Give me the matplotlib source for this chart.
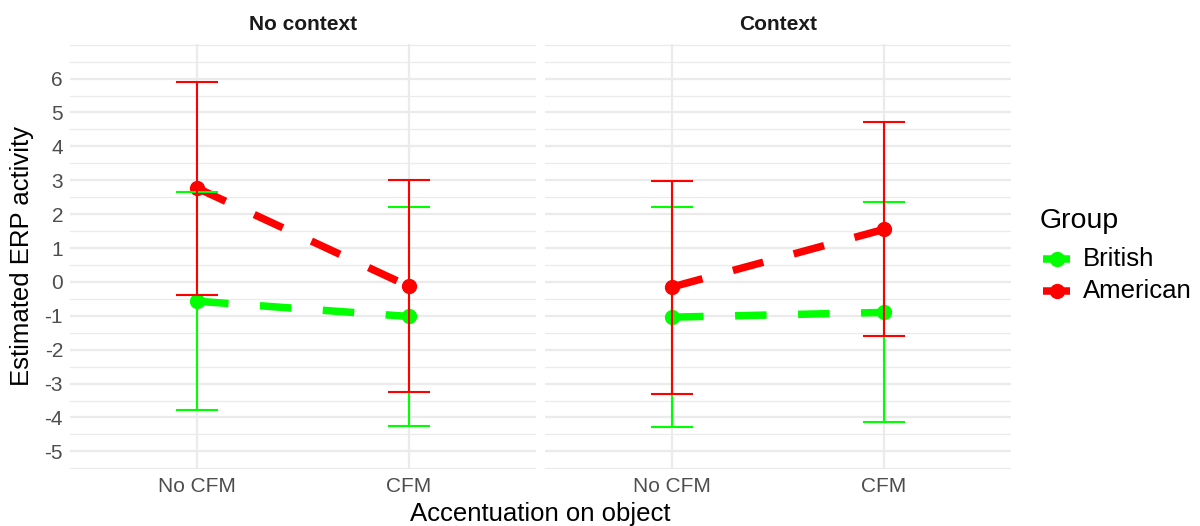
import matplotlib
matplotlib.use("Agg")
import matplotlib.pyplot as plt
import numpy as np

plt.rcParams['font.family'] = ['Liberation Sans', 'DejaVu Sans']
plt.rcParams['axes.unicode_minus'] = False

# data
panels = ["No context", "Context"]
conditions = ["No CFM", "CFM"]
groups = ["British", "American"]
colors = {"British": "#00FF00", "American": "#FF0000"}

means = {
    "No context": {"British": [-0.57, -1.02], "American": [2.77, -0.13]},
    "Context": {"British": [-1.04, -0.90], "American": [-0.15, 1.55]},
}
upper = {
    "No context": {"British": [2.65, 2.20], "American": [5.90, 3.00]},
    "Context": {"British": [2.20, 2.37], "American": [2.99, 4.73]},
}
lower = {
    "No context": {"British": [-3.78, -4.25], "American": [-0.38, -3.26]},
    "Context": {"British": [-4.28, -4.12], "American": [-3.31, -1.59]},
}

fig = plt.figure(figsize=(12, 5.26), dpi=100)

grid_col = "#EBEBEB"
lefts = [70 / 1200, 545 / 1200]
width = 466 / 1200
bottom = 1 - 469 / 526
height = (469 - 44) / 526

x = np.arange(1, len(conditions) + 1)

for i, panel in enumerate(panels):
    ax = fig.add_axes([lefts[i], bottom, width, height])
    ax.set_xlim(0.4, 2.6)
    ax.set_ylim(-5.52, 7.02)
    for s in ax.spines.values():
        s.set_visible(False)

    # grid
    for v in np.arange(-5.5, 7.01, 0.5):
        major = float(v).is_integer() and -5 <= v <= 6
        ax.axhline(v, color=grid_col, lw=1.6 if major else 0.9, zorder=0)
    for xv in x:
        ax.axvline(xv, color=grid_col, lw=1.6, zorder=0)

    for g in groups:
        ax.plot(x, means[panel][g], color=colors[g], lw=5.4,
                dashes=(4.2, 4.2), solid_capstyle="butt",
                dash_capstyle="butt", zorder=2)
    for g in groups:
        ax.plot(x, means[panel][g], "o", color=colors[g], ms=10, zorder=3)
    for g in groups:
        lo = lower[panel][g]
        hi = upper[panel][g]
        ax.vlines(x, lo, hi, color=colors[g], lw=1.5, zorder=4)
        ax.hlines(lo, x - 0.1, x + 0.1, color=colors[g], lw=1.5, zorder=4)
        ax.hlines(hi, x - 0.1, x + 0.1, color=colors[g], lw=1.5, zorder=4)

    ax.set_xticks(x)
    ax.set_xticklabels(conditions)
    ax.tick_params(axis="x", length=0, pad=6, labelsize=15, labelcolor="#4D4D4D")
    if i == 0:
        ax.set_yticks(np.arange(-5, 7))
        ax.tick_params(axis="y", length=0, pad=5, labelsize=15, labelcolor="#4D4D4D")
    else:
        ax.set_yticks([])
    ax.set_title(panel, fontsize=15, fontweight="bold", color="#1A1A1A", pad=10)

fig.text(540 / 1200, 1 - 514 / 526, "Accentuation on object", fontsize=18.5,
         ha="center", va="center")
fig.text(22 / 1200, 1 - 256 / 526, "Estimated ERP activity", fontsize=18.5,
         ha="center", va="center", rotation=90)

# legend
fig.text(1040 / 1200, 1 - 221 / 526, "Group", fontsize=20.5, ha="left", va="center")
leg_ax = fig.add_axes([0, 0, 1, 1], facecolor="none")
leg_ax.set_xlim(0, 1200)
leg_ax.set_ylim(526, 0)
leg_ax.axis("off")
for k, g in enumerate(groups):
    yk = 259 + 32 * k
    leg_ax.plot([1043, 1070], [yk, yk], color=colors[g], lw=5.4, solid_capstyle="butt")
    leg_ax.plot([1056.5], [yk], "o", color=colors[g], ms=10)
    leg_ax.text(1083, yk, g, fontsize=18.5, ha="left", va="center")

fig.savefig("out.png", dpi=100)
